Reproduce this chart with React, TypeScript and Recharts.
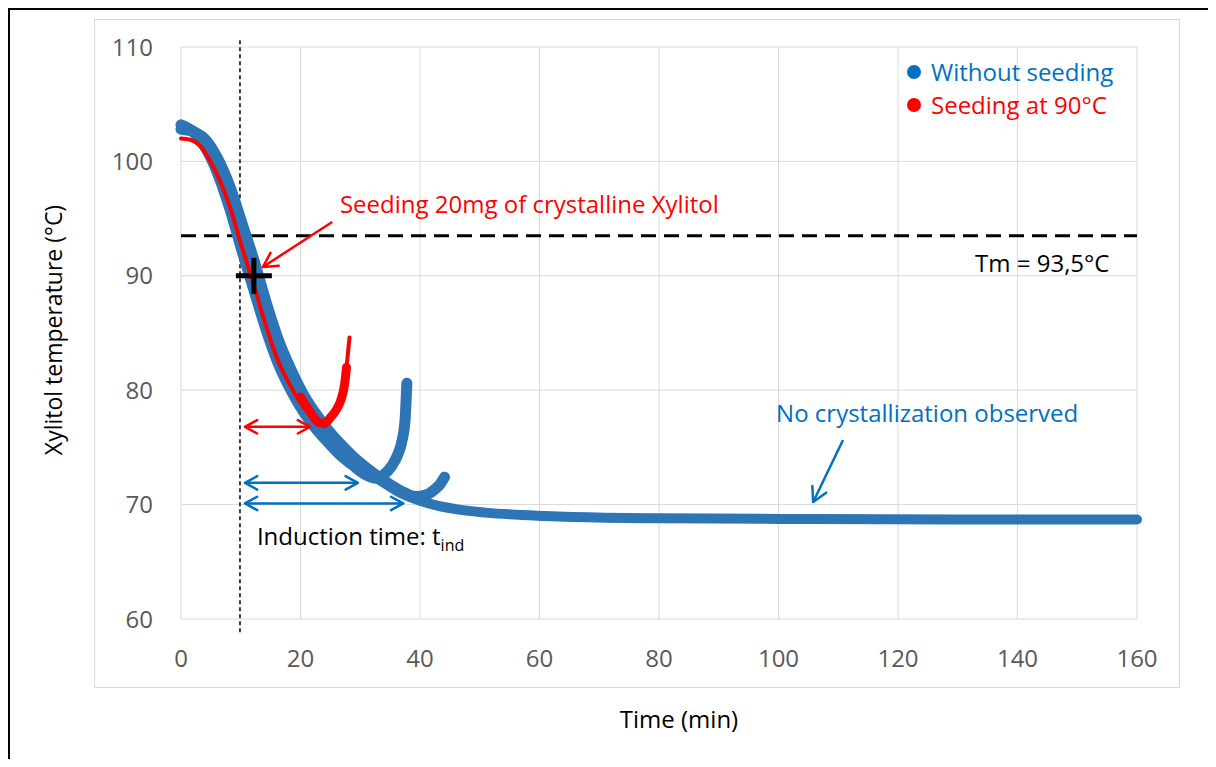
import React from 'react';
import { LineChart, Line, XAxis, YAxis, CartesianGrid, ReferenceLine, ReferenceDot, Legend } from 'recharts';

const xTicks = [0, 20, 40, 60, 80, 100, 120, 140, 160];
const yTicks = [60, 70, 80, 90, 100, 110];

// runs without seeding
const runNoCryst = [
  { t: 0, T: 103 }, { t: 2, T: 102.7 }, { t: 4.1, T: 101.7 }, { t: 6.1, T: 99.8 }, { t: 8.2, T: 97.0 },
  { t: 10.2, T: 93.6 }, { t: 12.3, T: 90.0 }, { t: 14.3, T: 86.4 }, { t: 16.3, T: 83.3 }, { t: 18.4, T: 80.9 },
  { t: 20.4, T: 79.0 }, { t: 22.5, T: 77.4 }, { t: 24.5, T: 76.1 }, { t: 26.5, T: 75.0 }, { t: 28.6, T: 74.0 },
  { t: 30.6, T: 73.1 }, { t: 33.7, T: 72.0 }, { t: 36.8, T: 71.0 }, { t: 40.8, T: 70.2 }, { t: 46, T: 69.6 },
  { t: 51, T: 69.3 }, { t: 61, T: 69.0 }, { t: 71, T: 68.85 }, { t: 80, T: 68.8 }, { t: 100, T: 68.75 },
  { t: 130, T: 68.7 }, { t: 160, T: 68.7 },
];
const runCryst33 = [
  { t: 0, T: 103.2 }, { t: 2, T: 102.6 }, { t: 4.1, T: 101.2 }, { t: 6.1, T: 99.0 }, { t: 8.2, T: 95.8 },
  { t: 10.2, T: 92.2 }, { t: 12.3, T: 88.6 }, { t: 14.3, T: 85.2 }, { t: 16.3, T: 82.3 }, { t: 18.4, T: 80.0 },
  { t: 20.4, T: 78.2 }, { t: 22.5, T: 76.7 }, { t: 24.5, T: 75.5 }, { t: 26.5, T: 74.4 }, { t: 28.6, T: 73.5 },
  { t: 30.6, T: 72.7 }, { t: 32.7, T: 72.3 }, { t: 33.9, T: 72.6 }, { t: 35.3, T: 73.4 }, { t: 36.3, T: 74.4 },
  { t: 37.0, T: 75.6 }, { t: 37.5, T: 77.4 }, { t: 37.8, T: 80.6 },
];
const runCryst39 = [
  { t: 0, T: 102.8 }, { t: 2, T: 102.6 }, { t: 4.1, T: 101.9 }, { t: 6.1, T: 100.3 }, { t: 8.2, T: 97.8 },
  { t: 10.2, T: 94.6 }, { t: 12.3, T: 91.2 }, { t: 14.3, T: 87.6 }, { t: 16.3, T: 84.4 }, { t: 18.4, T: 81.8 },
  { t: 20.4, T: 79.7 }, { t: 22.5, T: 78.0 }, { t: 24.5, T: 76.6 }, { t: 26.5, T: 75.4 }, { t: 28.6, T: 74.3 },
  { t: 30.6, T: 73.4 }, { t: 33.7, T: 72.2 }, { t: 36.8, T: 71.2 }, { t: 39.3, T: 70.7 }, { t: 40.8, T: 70.8 },
  { t: 42.4, T: 71.3 }, { t: 43.4, T: 71.8 }, { t: 44.1, T: 72.4 },
];

// seeded at 90°C
const runSeeded = [
  { t: 0, T: 102 }, { t: 1.5, T: 101.9 }, { t: 3.1, T: 101.4 }, { t: 4.6, T: 100.3 }, { t: 6.1, T: 98.8 },
  { t: 8.2, T: 96.0 }, { t: 10.2, T: 92.5 }, { t: 12.3, T: 89.0 }, { t: 14.3, T: 85.5 }, { t: 16.3, T: 82.5 },
  { t: 18.4, T: 80.3 }, { t: 20.4, T: 78.6 }, { t: 22.0, T: 77.7 }, { t: 23.3, T: 77.0 }, { t: 24.5, T: 77.2 },
  { t: 25.5, T: 77.8 }, { t: 26.5, T: 78.8 }, { t: 27.4, T: 80.5 }, { t: 27.8, T: 82.5 }, { t: 28.2, T: 84.6 },
];
const runSeededB = [
  { t: 20.0, T: 79.4 }, { t: 21.5, T: 78.2 }, { t: 23.0, T: 77.2 }, { t: 24.0, T: 77.1 }, { t: 25.0, T: 77.6 },
  { t: 26.0, T: 78.3 }, { t: 26.8, T: 79.2 }, { t: 27.4, T: 80.6 }, { t: 27.7, T: 82.0 },
];

const legendItems = [
  { name: 'Without seeding', color: '#0070C0' },
  { name: 'Seeding at 90°C', color: '#FF0000' },
];

const tm = 93.5;
const seedTime = 9.87;
const seedPoint = { t: 12.2, T: 90 };

const FONT = '"Open Sans", sans-serif';
const BLUE = '#2E75B6';
const BLUE_TXT = '#0070C0';
const RED = '#FF0000';

const headPath = (xa: number, ya: number, xb: number, yb: number, len: number) => {
  const a = Math.atan2(yb - ya, xb - xa);
  const s = 0.5;
  const p1x = xb - len * Math.cos(a - s), p1y = yb - len * Math.sin(a - s);
  const p2x = xb - len * Math.cos(a + s), p2y = yb - len * Math.sin(a + s);
  return `M${p1x},${p1y} L${xb},${yb} L${p2x},${p2y}`;
};

const arrow = (color: string, width: number, both: boolean, len = 14) => (p: any) => {
  const { x1, y1, x2, y2 } = p;
  return (
    <g>
      <line x1={x1} y1={y1} x2={x2} y2={y2} stroke={color} strokeWidth={width} />
      <path d={headPath(x1, y1, x2, y2, len)} fill="none" stroke={color} strokeWidth={width} strokeLinecap="round" strokeLinejoin="round" />
      {both && <path d={headPath(x2, y2, x1, y1, len)} fill="none" stroke={color} strokeWidth={width} strokeLinecap="round" strokeLinejoin="round" />}
    </g>
  );
};

const note = (text: React.ReactNode, color: string) => (p: any) => (
  <text x={p.cx} y={p.cy} fill={color} fontSize={24} fontFamily={FONT}>{text}</text>
);

export default function App() {
  return (
    <div style={{ position: 'relative', width: 1208, height: 751 }}>
      <style>{'body{overflow:hidden}'}</style>
      <div style={{ position: 'absolute', left: 0, top: 0, width: 1208, height: 751, borderTop: '2px solid #000', borderLeft: '2px solid #000', boxSizing: 'border-box' }} />
      <div style={{ position: 'absolute', left: 86, top: 11, width: 1086, height: 669, border: '1px solid #d9d9d9', boxSizing: 'border-box' }} />
      <div style={{ position: 'absolute', left: 0, top: 0 }}>
        <LineChart width={1208} height={751} margin={{ top: 39, right: 79, bottom: 80, left: 0 }}>
          <CartesianGrid stroke="#d9d9d9" />
          <XAxis
            type="number"
            dataKey="t"
            domain={[0, 160]}
            ticks={xTicks}
            axisLine={false}
            tickLine={false}
            tickMargin={25}
            height={60}
            tick={{ fill: '#595959', fontSize: 24, fontFamily: FONT }}
            label={{
              content: () => (
                <text x={671} y={720} textAnchor="middle" fill="#000" fontSize={24} fontFamily={FONT}>Time (min)</text>
              ),
            }}
          />
          <YAxis
            type="number"
            domain={[60, 110]}
            ticks={yTicks}
            axisLine={false}
            tickLine={false}
            tickMargin={22}
            width={173}
            tick={{ fill: '#595959', fontSize: 24, fontFamily: FONT }}
            label={{
              content: () => (
                <text x={54} y={322} transform="rotate(-90 54 322)" textAnchor="middle" fill="#000" fontSize={23} fontFamily={FONT}>
                  Xylitol temperature (°C)
                </text>
              ),
            }}
          />
          <ReferenceLine y={tm} stroke="#000" strokeWidth={3} strokeDasharray="15 8" />
          <ReferenceLine
            segment={[{ x: seedTime, y: 110.6 }, { x: seedTime, y: 58.6 }]}
            ifOverflow="visible"
            stroke="#000"
            strokeWidth={1.5}
            strokeDasharray="4 3"
          />
          <Line data={runCryst39} dataKey="T" type="monotone" stroke={BLUE} strokeWidth={11} strokeLinecap="round" dot={false} isAnimationActive={false} />
          <Line data={runCryst33} dataKey="T" type="monotone" stroke={BLUE} strokeWidth={11} strokeLinecap="round" dot={false} isAnimationActive={false} />
          <Line data={runNoCryst} dataKey="T" type="monotone" stroke={BLUE} strokeWidth={10} strokeLinecap="round" dot={false} isAnimationActive={false} />
          <Line data={runSeeded} dataKey="T" type="monotone" stroke={RED} strokeWidth={4} strokeLinecap="round" dot={false} isAnimationActive={false} />
          <Line data={runSeededB} dataKey="T" type="monotone" stroke={RED} strokeWidth={9} strokeLinecap="round" dot={false} isAnimationActive={false} />

          <ReferenceLine segment={[{ x: 10.7, y: 76.8 }, { x: 21.6, y: 76.8 }]} shape={arrow(RED, 2.5, true)} />
          <ReferenceLine segment={[{ x: 10.7, y: 71.9 }, { x: 29.6, y: 71.9 }]} shape={arrow(BLUE_TXT, 2.5, true)} />
          <ReferenceLine segment={[{ x: 10.7, y: 70.1 }, { x: 37.2, y: 70.1 }]} shape={arrow(BLUE_TXT, 2.5, true)} />
          <ReferenceLine segment={[{ x: 25.3, y: 94.7 }, { x: 13.7, y: 90.77 }]} shape={arrow(RED, 2.5, false, 16)} />
          <ReferenceLine segment={[{ x: 110.8, y: 75.65 }, { x: 105.8, y: 70.23 }]} shape={arrow(BLUE_TXT, 2.5, false, 16)} />

          <ReferenceDot
            x={seedPoint.t}
            y={seedPoint.T}
            shape={(p: any) => (
              <g stroke="#000" strokeWidth={5}>
                <line x1={p.cx - 18} y1={p.cy} x2={p.cx + 18} y2={p.cy} />
                <line x1={p.cx} y1={p.cy - 18} x2={p.cx} y2={p.cy + 18} />
              </g>
            )}
          />
          <ReferenceDot x={26.6} y={95.5} shape={note('Seeding 20mg of crystalline Xylitol', RED)} />
          <ReferenceDot x={132.9} y={90.36} shape={note('Tm = 93,5°C', '#000')} />
          <ReferenceDot x={99.6} y={77.25} shape={note('No crystallization observed', BLUE_TXT)} />
          <ReferenceDot
            x={12.7}
            y={66.47}
            shape={note(
              <>
                Induction time: t<tspan fontSize={16} dy={6}>ind</tspan>
              </>,
              '#000'
            )}
          />

          <Legend
            layout="horizontal"
            verticalAlign="middle"
            content={() => (
              <div style={{ fontFamily: FONT, fontSize: 24, lineHeight: '33px' }}>
                {legendItems.map((it) => (
                  <div key={it.name} style={{ display: 'flex', alignItems: 'center', height: 33 }}>
                    <span style={{ width: 14, height: 14, borderRadius: 7, background: it.color, marginRight: 10, display: 'inline-block' }} />
                    <span style={{ color: it.color, whiteSpace: 'nowrap' }}>{it.name}</span>
                  </div>
                ))}
              </div>
            )}
            wrapperStyle={{ position: 'absolute', left: 899, top: 47, width: 260 }}
          />
        </LineChart>
      </div>
    </div>
  );
}
